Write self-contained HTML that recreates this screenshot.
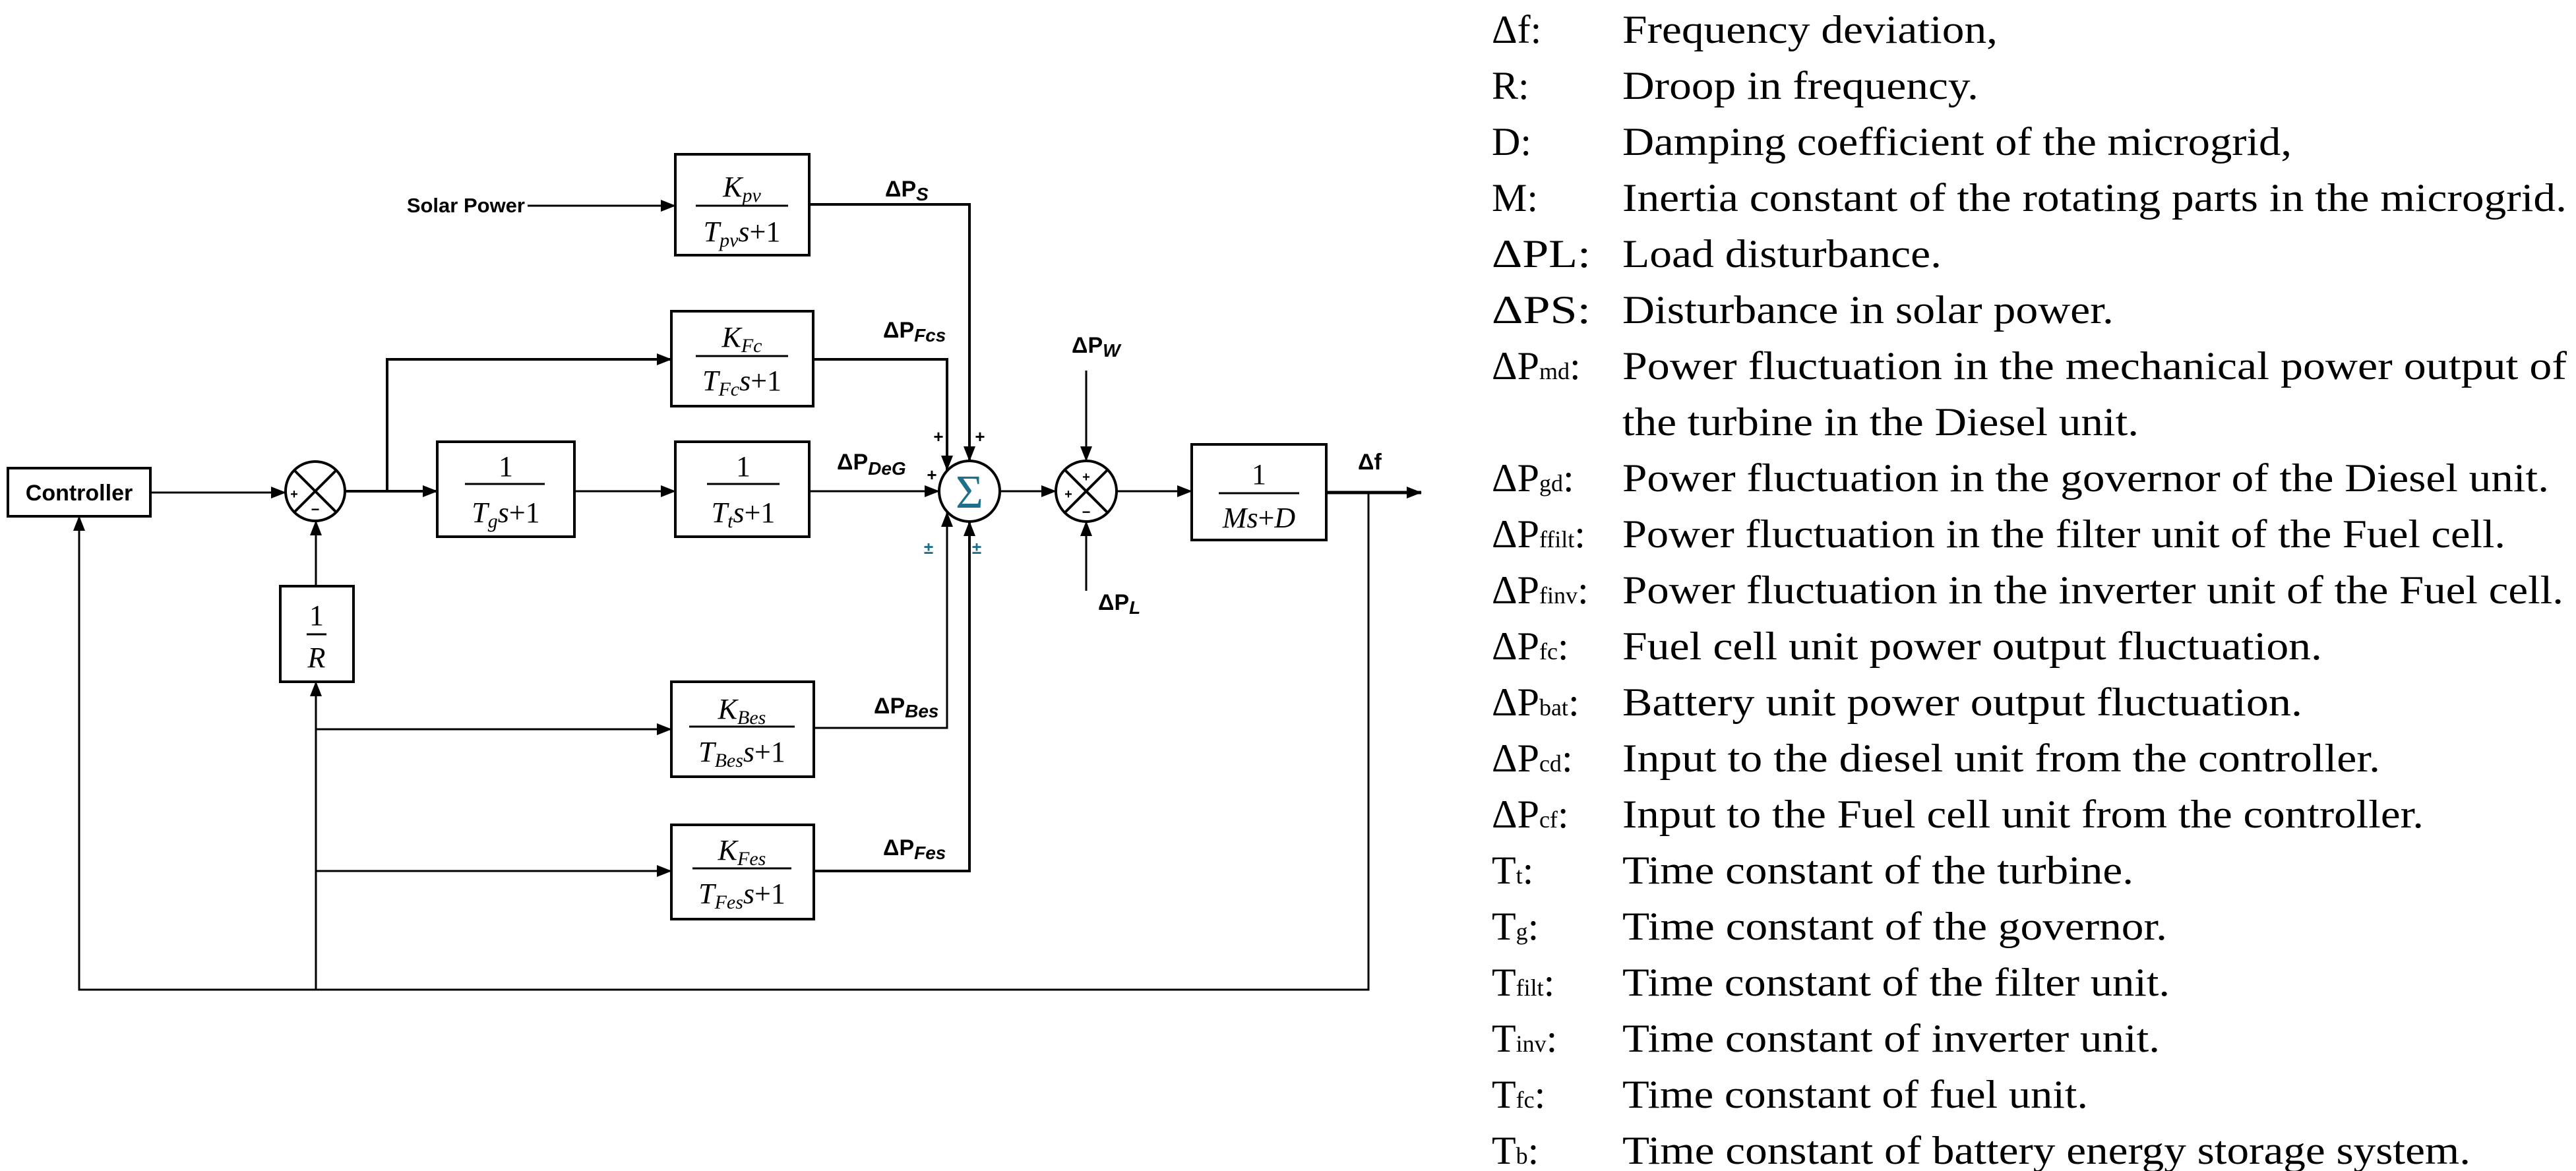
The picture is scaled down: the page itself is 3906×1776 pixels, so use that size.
<!DOCTYPE html>
<html><head><meta charset="utf-8"><style>
html,body{margin:0;padding:0;background:#fff;}
svg{display:block;}
.sans{font-family:"Liberation Sans",sans-serif;font-weight:bold;}
.m{font-family:"Liberation Serif",serif;font-style:italic;}
.n{font-family:"Liberation Serif",serif;}
.lg{font-family:"Liberation Serif",serif;font-size:60px;}
</style></head><body>
<svg width="3906" height="1776" viewBox="0 0 3906 1776" xmlns="http://www.w3.org/2000/svg">
<defs>
<marker id="a" markerUnits="userSpaceOnUse" markerWidth="24" markerHeight="20" refX="22" refY="10" orient="auto">
<path d="M0,1 L23,10 L0,19 z" fill="#000"/>
</marker>
</defs>
<g stroke="#000" stroke-width="4" fill="none">
<!-- boxes -->
<rect x="12" y="710" width="216" height="73"/>
<rect x="1024" y="234" width="203" height="153"/>
<rect x="1018" y="472" width="215" height="144"/>
<rect x="663" y="670" width="208" height="144"/>
<rect x="1024" y="670" width="203" height="144"/>
<rect x="425" y="889" width="111" height="145"/>
<rect x="1018" y="1034" width="216" height="144"/>
<rect x="1018" y="1251" width="216" height="143"/>
<rect x="1807" y="674" width="204" height="145"/>
<!-- junctions -->
<circle cx="478" cy="745" r="45"/>
<line x1="446" y1="713" x2="510" y2="777"/><line x1="510" y1="713" x2="446" y2="777"/>
<ellipse cx="1470" cy="745" rx="46" ry="46"/>
<circle cx="1647" cy="745" r="46"/>
<line x1="1614" y1="712" x2="1680" y2="778"/><line x1="1680" y1="712" x2="1614" y2="778"/>
<!-- connectors -->
<line x1="800" y1="312" x2="1024" y2="312" marker-end="url(#a)" stroke-width="3"/>
<polyline points="1227,310 1470,310 1470,699" marker-end="url(#a)"/>
<line x1="228" y1="747" x2="433" y2="747" marker-end="url(#a)" stroke-width="3"/>
<line x1="523" y1="745" x2="663" y2="745" marker-end="url(#a)"/>
<polyline points="587,745 587,545 1018,545" marker-end="url(#a)"/>
<polyline points="1233,545 1436,545 1436,713" marker-end="url(#a)"/>
<line x1="871" y1="745" x2="1024" y2="745" marker-end="url(#a)" stroke-width="3"/>
<line x1="1227" y1="745" x2="1424" y2="745" marker-end="url(#a)" stroke-width="3"/>
<line x1="1516" y1="745" x2="1601" y2="745" marker-end="url(#a)" stroke-width="3"/>
<line x1="1693" y1="745" x2="1807" y2="745" marker-end="url(#a)" stroke-width="3"/>
<line x1="2011" y1="747" x2="2155" y2="747" marker-end="url(#a)" stroke-width="5"/>
<line x1="1647" y1="562" x2="1647" y2="699" marker-end="url(#a)" stroke-width="3"/>
<line x1="1647" y1="896" x2="1647" y2="791" marker-end="url(#a)" stroke-width="3"/>
<polyline points="2075,747 2075,1501 120,1501 120,783" marker-end="url(#a)" stroke-width="3"/>
<line x1="479" y1="1501" x2="479" y2="1034" marker-end="url(#a)" stroke-width="3"/>
<line x1="479" y1="889" x2="479" y2="790" marker-end="url(#a)" stroke-width="3"/>
<line x1="479" y1="1106" x2="1018" y2="1106" marker-end="url(#a)" stroke-width="3"/>
<line x1="479" y1="1321" x2="1018" y2="1321" marker-end="url(#a)" stroke-width="3"/>
<polyline points="1234,1104 1436,1104 1436,777" marker-end="url(#a)" stroke-width="3"/>
<polyline points="1234,1321 1470,1321 1470,791" marker-end="url(#a)"/>
<!-- fraction bars -->
<line x1="1055" y1="312" x2="1195" y2="312" stroke-width="3"/>
<line x1="1055" y1="540" x2="1195" y2="540" stroke-width="3"/>
<line x1="705" y1="734" x2="826" y2="734" stroke-width="3"/>
<line x1="1072" y1="734" x2="1182" y2="734" stroke-width="3"/>
<line x1="465" y1="962" x2="495" y2="962" stroke-width="3"/>
<line x1="1045" y1="1102" x2="1205" y2="1102" stroke-width="3"/>
<line x1="1050" y1="1317" x2="1200" y2="1317" stroke-width="3"/>
<line x1="1848" y1="748" x2="1970" y2="748" stroke-width="3"/>
</g>
<!-- math text -->
<g class="m" font-size="44" text-anchor="middle">
<text x="1125" y="298">K<tspan font-size="30" dy="8">pv</tspan></text>
<text x="1125" y="366">T<tspan font-size="30" dy="8">pv</tspan><tspan dy="-8">s</tspan><tspan class="n" font-style="normal">+1</tspan></text>
<text x="1125" y="526">K<tspan font-size="30" dy="8">Fc</tspan></text>
<text x="1125" y="592">T<tspan font-size="30" dy="8">Fc</tspan><tspan dy="-8">s</tspan><tspan font-style="normal">+1</tspan></text>
<text x="767" y="722" font-style="normal">1</text>
<text x="767" y="792">T<tspan font-size="30" dy="8">g</tspan><tspan dy="-8">s</tspan><tspan font-style="normal">+1</tspan></text>
<text x="1127" y="722" font-style="normal">1</text>
<text x="1127" y="792">T<tspan font-size="30" dy="8">t</tspan><tspan dy="-8">s</tspan><tspan font-style="normal">+1</tspan></text>
<text x="480" y="948" font-style="normal">1</text>
<text x="480" y="1012">R</text>
<text x="1125" y="1090">K<tspan font-size="30" dy="8">Bes</tspan></text>
<text x="1125" y="1155">T<tspan font-size="30" dy="8">Bes</tspan><tspan dy="-8">s</tspan><tspan font-style="normal">+1</tspan></text>
<text x="1125" y="1304">K<tspan font-size="30" dy="8">Fes</tspan></text>
<text x="1125" y="1370">T<tspan font-size="30" dy="8">Fes</tspan><tspan dy="-8">s</tspan><tspan font-style="normal">+1</tspan></text>
<text x="1909" y="734" font-style="normal">1</text>
<text x="1909" y="800">Ms<tspan font-style="normal">+</tspan>D</text>
</g>
<text x="1470" y="770" text-anchor="middle" font-family="Liberation Serif,serif" font-size="72" fill="#1f6e8c">Σ</text>
<!-- labels -->
<g class="sans" font-size="34">
<text x="120" y="759" text-anchor="middle">Controller</text>
<text x="796" y="322" text-anchor="end" font-size="31">Solar Power</text>
<text x="1342" y="298">ΔP<tspan font-size="28" dy="6" font-style="italic">S</tspan></text>
<text x="1339" y="512">ΔP<tspan font-size="28" dy="6" font-style="italic">Fcs</tspan></text>
<text x="1269" y="712">ΔP<tspan font-size="28" dy="8" font-style="italic">DeG</tspan></text>
<text x="1625" y="535">ΔP<tspan font-size="28" dy="6" font-style="italic">W</tspan></text>
<text x="1665" y="925">ΔP<tspan font-size="28" dy="6" font-style="italic">L</tspan></text>
<text x="1325" y="1082">ΔP<tspan font-size="28" dy="6" font-style="italic">Bes</tspan></text>
<text x="1339" y="1297">ΔP<tspan font-size="28" dy="6" font-style="italic">Fes</tspan></text>
<text x="2059" y="712">Δf</text>
</g>
<g class="sans" font-size="26" text-anchor="middle">
<text x="1423" y="671">+</text><text x="1486" y="671">+</text><text x="1413" y="729">+</text>
<text x="1408" y="840" fill="#1f6e8c">±</text><text x="1481" y="840" fill="#1f6e8c">±</text>
<text x="446" y="756" font-size="20">+</text><text x="478" y="780" font-size="22">−</text>
<text x="1647" y="730" font-size="20">+</text><text x="1620" y="756" font-size="20">+</text><text x="1647" y="784" font-size="22">−</text>
</g>
<!-- legend -->
<g class="lg">
<text x="2262" y="65">Δf:</text><text x="2460" y="65" textLength="569" lengthAdjust="spacingAndGlyphs">Frequency deviation,</text>
<text x="2262" y="150">R:</text><text x="2460" y="150" textLength="540" lengthAdjust="spacingAndGlyphs">Droop in frequency.</text>
<text x="2262" y="235">D:</text><text x="2460" y="235" textLength="1015" lengthAdjust="spacingAndGlyphs">Damping coefficient of the microgrid,</text>
<text x="2262" y="320">M:</text><text x="2460" y="320" textLength="1432" lengthAdjust="spacingAndGlyphs">Inertia constant of the rotating parts in the microgrid.</text>
<text x="2262" y="405" textLength="150" lengthAdjust="spacingAndGlyphs">ΔPL:</text><text x="2460" y="405" textLength="484" lengthAdjust="spacingAndGlyphs">Load disturbance.</text>
<text x="2262" y="490" textLength="150" lengthAdjust="spacingAndGlyphs">ΔPS:</text><text x="2460" y="490" textLength="745" lengthAdjust="spacingAndGlyphs">Disturbance in solar power.</text>
<text x="2262" y="575">ΔP<tspan font-size="36">md</tspan>:</text><text x="2460" y="575" textLength="1432" lengthAdjust="spacingAndGlyphs">Power fluctuation in the mechanical power output of</text>
<text x="2460" y="660" textLength="783" lengthAdjust="spacingAndGlyphs">the turbine in the Diesel unit.</text>
<text x="2262" y="745">ΔP<tspan font-size="36">gd</tspan>:</text><text x="2460" y="745" textLength="1405" lengthAdjust="spacingAndGlyphs">Power fluctuation in the governor of the Diesel unit.</text>
<text x="2262" y="830">ΔP<tspan font-size="36">ffilt</tspan>:</text><text x="2460" y="830" textLength="1339" lengthAdjust="spacingAndGlyphs">Power fluctuation in the filter unit of the Fuel cell.</text>
<text x="2262" y="915">ΔP<tspan font-size="36">finv</tspan>:</text><text x="2460" y="915" textLength="1427" lengthAdjust="spacingAndGlyphs">Power fluctuation in the inverter unit of the Fuel cell.</text>
<text x="2262" y="1000">ΔP<tspan font-size="36">fc</tspan>:</text><text x="2460" y="1000" textLength="1061" lengthAdjust="spacingAndGlyphs">Fuel cell unit power output fluctuation.</text>
<text x="2262" y="1085">ΔP<tspan font-size="36">bat</tspan>:</text><text x="2460" y="1085" textLength="1031" lengthAdjust="spacingAndGlyphs">Battery unit power output fluctuation.</text>
<text x="2262" y="1170">ΔP<tspan font-size="36">cd</tspan>:</text><text x="2460" y="1170" textLength="1149" lengthAdjust="spacingAndGlyphs">Input to the diesel unit from the controller.</text>
<text x="2262" y="1255">ΔP<tspan font-size="36">cf</tspan>:</text><text x="2460" y="1255" textLength="1215" lengthAdjust="spacingAndGlyphs">Input to the Fuel cell unit from the controller.</text>
<text x="2262" y="1340">T<tspan font-size="36">t</tspan>:</text><text x="2460" y="1340" textLength="775" lengthAdjust="spacingAndGlyphs">Time constant of the turbine.</text>
<text x="2262" y="1425">T<tspan font-size="36">g</tspan>:</text><text x="2460" y="1425" textLength="826" lengthAdjust="spacingAndGlyphs">Time constant of the governor.</text>
<text x="2262" y="1510">T<tspan font-size="36">filt</tspan>:</text><text x="2460" y="1510" textLength="830" lengthAdjust="spacingAndGlyphs">Time constant of the filter unit.</text>
<text x="2262" y="1595">T<tspan font-size="36">inv</tspan>:</text><text x="2460" y="1595" textLength="815" lengthAdjust="spacingAndGlyphs">Time constant of inverter unit.</text>
<text x="2262" y="1680">T<tspan font-size="36">fc</tspan>:</text><text x="2460" y="1680" textLength="706" lengthAdjust="spacingAndGlyphs">Time constant of fuel unit.</text>
<text x="2262" y="1765">T<tspan font-size="36">b</tspan>:</text><text x="2460" y="1765" textLength="1286" lengthAdjust="spacingAndGlyphs">Time constant of battery energy storage system.</text>
</g>
</svg>
</body></html>
